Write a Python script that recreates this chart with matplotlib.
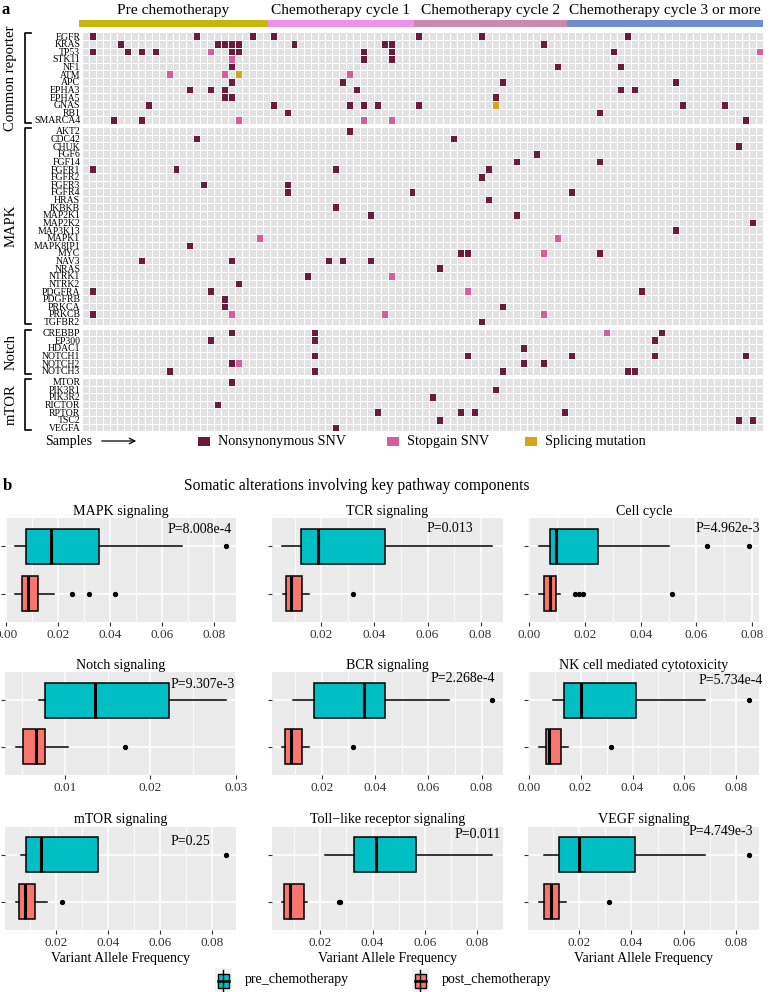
import numpy as np
import matplotlib
matplotlib.use("Agg")
import matplotlib.pyplot as plt
from matplotlib.colors import ListedColormap
from matplotlib.patches import Rectangle
from matplotlib.ticker import MultipleLocator, FormatStrFormatter

plt.rcParams['font.family'] = ['Liberation Serif', 'DejaVu Serif']

# ---------------- panel a: mutation map ----------------
n_samples = 98
phases = ["Pre chemotherapy", "Chemotherapy cycle 1", "Chemotherapy cycle 2",
          "Chemotherapy cycle 3 or more"]
phase_sizes = [27, 21, 22, 28]
phase_colors = ["#c9b60c", "#ee90ee", "#c98aae", "#6d8fcd"]

pathways = ["Common reporter", "MAPK", "Notch", "mTOR"]
common_genes = ["EGFR", "KRAS", "TP53", "STK11", "NF1", "ATM", "APC", "EPHA3",
                "EPHA5", "GNAS", "RB1", "SMARCA4"]
mapk_genes = ["AKT2", "CDC42", "CHUK", "FGF6", "FGF14", "FGFR1", "FGFR2", "FGFR3",
              "FGFR4", "HRAS", "IKBKB", "MAP2K1", "MAP2K2", "MAP3K13", "MAPK1",
              "MAPK8IP1", "MYC", "NAV3", "NRAS", "NTRK1", "NTRK2", "PDGFRA",
              "PDGFRB", "PRKCA", "PRKCB", "TGFBR2"]
notch_genes = ["CREBBP", "EP300", "HDAC1", "NOTCH1", "NOTCH2", "NOTCH3"]
mtor_genes = ["MTOR", "PIK3R1", "PIK3R2", "RICTOR", "RPTOR", "TSC2", "VEGFA"]

# sample (column) indices carrying each mutation type
nonsyn = {
    "EGFR": [1, 16, 24, 27, 48, 57, 78],
    "KRAS": [5, 19, 20, 21, 22, 30, 43, 44, 66],
    "TP53": [1, 6, 8, 10, 21, 22, 40, 44, 76],
    "STK11": [40, 44],
    "NF1": [21, 68, 77],
    "APC": [21, 37, 60, 85],
    "EPHA3": [15, 18, 20, 39, 77, 79],
    "EPHA5": [20, 21, 59],
    "GNAS": [9, 27, 38, 40, 42, 48, 86, 92],
    "RB1": [29, 74],
    "SMARCA4": [4, 8, 95],
    "AKT2": [38],
    "CDC42": [16, 53],
    "CHUK": [94],
    "FGF6": [65],
    "FGF14": [62, 74],
    "FGFR1": [1, 13, 36, 58],
    "FGFR2": [57],
    "FGFR3": [17, 29],
    "FGFR4": [29, 47, 70],
    "HRAS": [58],
    "IKBKB": [36],
    "MAP2K1": [41, 62],
    "MAP2K2": [96],
    "MAP3K13": [85],
    "MAPK8IP1": [15],
    "MYC": [54, 55, 74],
    "NAV3": [8, 21, 35, 37, 41],
    "NRAS": [51],
    "NTRK1": [32],
    "NTRK2": [22],
    "PDGFRA": [1, 18, 80],
    "PDGFRB": [20],
    "PRKCA": [20, 60],
    "PRKCB": [1],
    "TGFBR2": [57],
    "CREBBP": [21, 33, 83],
    "EP300": [18, 33, 82],
    "HDAC1": [63],
    "NOTCH1": [33, 55, 70, 82, 95],
    "NOTCH2": [21, 63, 66],
    "NOTCH3": [12, 33, 60, 78, 79],
    "MTOR": [21],
    "PIK3R1": [59],
    "PIK3R2": [50],
    "RICTOR": [19],
    "RPTOR": [42, 54, 56, 69],
    "TSC2": [51, 94, 96],
    "VEGFA": [36],
}
stopgain = {
    "TP53": [18, 97],
    "STK11": [21],
    "ATM": [12, 20, 38],
    "SMARCA4": [22, 40, 44],
    "MAPK1": [25, 68],
    "MYC": [66],
    "NTRK1": [44],
    "PDGFRA": [55],
    "PRKCB": [21, 43, 66],
    "CREBBP": [75],
    "NOTCH2": [22],
}
splicing = {
    "ATM": [22],
    "GNAS": [59],
}
mut_labels = ["Nonsynonymous SNV", "Stopgain SNV", "Splicing mutation"]
cell_colors = ["#e2e2e2", "#6b1a3c", "#d45c9f", "#d4a51c"]

# ---------------- panel b: VAF boxplots ----------------
box_titles = ["MAPK signaling", "TCR signaling", "Cell cycle",
              "Notch signaling", "BCR signaling", "NK cell mediated cytotoxicity",
              "mTOR signaling", "Toll\u2212like receptor signaling", "VEGF signaling"]
p_values = ["P=8.008e-4", "P=0.013", "P=4.962e-3",
            "P=9.307e-3", "P=2.268e-4", "P=5.734e-4",
            "P=0.25", "P=0.011", "P=4.749e-3"]
# (lower whisker, q1, median, q3, upper whisker)
pre_stats = [
    (0.0036, 0.0077, 0.0172, 0.0356, 0.0677),
    (0.0052, 0.0122, 0.0187, 0.0440, 0.0844),
    (0.0034, 0.0075, 0.0094, 0.0248, 0.0502),
    (0.0070, 0.0076, 0.0135, 0.0222, 0.0288),
    (0.0093, 0.0171, 0.0358, 0.0436, 0.0676),
    (0.0092, 0.0135, 0.0200, 0.0414, 0.0678),
    (0.0068, 0.0086, 0.0142, 0.0362, 0.0362),
    (0.0217, 0.0328, 0.0415, 0.0566, 0.0858),
    (0.0065, 0.0122, 0.0200, 0.0415, 0.0682),
]
pre_outliers = [[0.0843], [], [0.0639, 0.0788], [], [0.0840], [0.0848],
                [0.0852], [], [0.0849]]
post_stats = [
    (0.0036, 0.0062, 0.0085, 0.0123, 0.0185),
    (0.0055, 0.0065, 0.0084, 0.0128, 0.0153),
    (0.0034, 0.0054, 0.0073, 0.0094, 0.0110),
    (0.0042, 0.0051, 0.0066, 0.0076, 0.0104),
    (0.0051, 0.0060, 0.0085, 0.0127, 0.0152),
    (0.0039, 0.0066, 0.0079, 0.0124, 0.0150),
    (0.0045, 0.0058, 0.0081, 0.0120, 0.0165),
    (0.0054, 0.0060, 0.0082, 0.0137, 0.0148),
    (0.0046, 0.0065, 0.0091, 0.0125, 0.0150),
]
post_outliers = [[0.0253, 0.0317, 0.0418], [0.0320], [0.0164, 0.0178, 0.0193, 0.0514],
                 [0.0170], [0.0316], [0.0316], [0.0223], [0.0272, 0.0276], [0.0315]]
groups = ["pre_chemotherapy", "post_chemotherapy"]
group_colors = ["#00BFC4", "#F8766D"]

# ---------------- figure ----------------
W, H = 770, 992
fig = plt.figure(figsize=(W / 100, H / 100), dpi=100)


def px_axes(x0, y0, x1, y1, **kw):
    return fig.add_axes([x0 / W, 1 - y1 / H, (x1 - x0) / W, (y1 - y0) / H], **kw)


ann = px_axes(0, 0, W, H)
ann.set_xlim(0, W)
ann.set_ylim(H, 0)
ann.axis('off')

ann.text(1, 10, "a", fontsize=12, fontweight='bold', va='center')
ann.text(3, 486, "b", fontsize=12, fontweight='bold', va='center')

# phase bar
hm_left, hm_right = 82.3, 762.5
bar_ax = px_axes(hm_left - 3, 20, hm_right, 27)
starts = np.concatenate([[0], np.cumsum(phase_sizes)[:-1]])
bar_ax.barh(0, phase_sizes, left=starts, height=1, color=phase_colors)
for s, n, lab in zip(starts, phase_sizes, phases):
    bar_ax.text(s + n / 2, 2.3, lab, ha='center', va='center', fontsize=11.1,
                transform=bar_ax.get_xaxis_transform(), clip_on=False)
bar_ax.set_xlim(0, n_samples)
bar_ax.set_ylim(-0.5, 0.5)
bar_ax.axis('off')

# mutation facets
cell_cmap = ListedColormap(cell_colors)
facet_genes = [common_genes, mapk_genes, notch_genes, mtor_genes]
hm_top, hm_bottom, gap = 32.3, 431.3, 3.4
row_h = (hm_bottom - hm_top - gap * 3) / sum(len(g) for g in facet_genes)
y = hm_top
for name, genes in zip(pathways, facet_genes):
    h = row_h * len(genes)
    ax = px_axes(hm_left, y, hm_right, y + h)
    mat = np.zeros((len(genes), n_samples))
    for i, g in enumerate(genes):
        for code, table in enumerate([nonsyn, stopgain, splicing], start=1):
            for c in table.get(g, []):
                mat[i, c] = code
    ax.pcolormesh(mat, cmap=cell_cmap, vmin=-0.5, vmax=3.5,
                  edgecolors='white', linewidth=0.6)
    ax.set_xlim(0, n_samples)
    ax.set_ylim(len(genes), 0)
    ax.set_xticks([])
    ax.set_yticks(np.arange(len(genes)) + 0.5)
    ax.set_yticklabels(genes, fontsize=7)
    ax.tick_params(axis='y', length=0, pad=1.5)
    for sp in ax.spines.values():
        sp.set_visible(False)
    ann.plot([31, 24.5, 24.5, 31], [y + 1, y + 1, y + h - 1, y + h - 1],
             color='black', lw=1.2)
    ann.text(11, y + h / 2, name, rotation=90, ha='center', va='center', fontsize=10.6)
    y += h + gap

# heatmap legend
ann.text(45, 441, "Samples", fontsize=10, va='center')
ann.annotate('', xy=(139, 441), xytext=(99, 441),
             arrowprops=dict(arrowstyle='->', lw=0.9, color='black'))
for x0, col, lab in zip([198, 387, 525], cell_colors[1:], mut_labels):
    ann.add_patch(Rectangle((x0, 436.5), 12, 9, facecolor=col, edgecolor='none'))
    ann.text(x0 + 20, 441, lab, fontsize=10.2, va='center')

# ---------------- boxplots ----------------
col_x = [(5, 236), (271.7, 502.7), (528.3, 759.3)]
row_y = [(518.3, 621.7), (672, 775), (826.7, 930)]
p_pos = [(0.983, 0.887), (0.871, 0.903), (1.003, 0.903),
         (0.996, 0.874), (0.967, 0.935), (1.017, 0.915),
         (0.887, 0.861), (0.991, 0.929), (0.974, 0.951)]

for k in range(9):
    r, c = divmod(k, 3)
    ax = px_axes(col_x[c][0], row_y[r][0], col_x[c][1], row_y[r][1])
    ax.set_facecolor('#EBEBEB')
    stats = []
    for st, fl in [(post_stats[k], post_outliers[k]), (pre_stats[k], pre_outliers[k])]:
        stats.append(dict(whislo=st[0], q1=st[1], med=st[2], q3=st[3], whishi=st[4],
                          fliers=fl))
    res = ax.bxp(stats, positions=[1, 2], widths=0.75, orientation='horizontal',
                 patch_artist=True, showcaps=False,
                 boxprops=dict(edgecolor='black', linewidth=1.1),
                 medianprops=dict(color='black', linewidth=2.2),
                 whiskerprops=dict(color='black', linewidth=1.1),
                 flierprops=dict(marker='o', markersize=2.8, markerfacecolor='black',
                                 markeredgecolor='black'))
    for box, col in zip(res['boxes'], group_colors[::-1]):
        box.set_facecolor(col)
    vals = [v for v in pre_stats[k] + post_stats[k]] + pre_outliers[k] + post_outliers[k]
    lo, hi = min(vals), max(vals)
    pad = 0.05 * (hi - lo)
    ax.set_xlim(lo - pad, hi + pad)
    ax.set_ylim(0.4, 2.6)
    step = 0.01 if k == 3 else 0.02
    ax.xaxis.set_major_locator(MultipleLocator(step))
    ax.xaxis.set_minor_locator(MultipleLocator(step / 2))
    ax.xaxis.set_major_formatter(FormatStrFormatter('%.2f'))
    ax.set_yticks([1, 2])
    ax.set_yticklabels([])
    ax.grid(which='major', color='white', linewidth=1.1)
    ax.grid(which='minor', axis='x', color='white', linewidth=0.55)
    ax.set_axisbelow(True)
    ax.tick_params(which='major', length=3, width=0.8, color='#333333',
                   labelsize=9.5, labelcolor='#333333', pad=2)
    ax.tick_params(which='minor', length=0)
    for sp in ax.spines.values():
        sp.set_visible(False)
    ax.set_title(box_titles[k], fontsize=10.1, pad=2.5)
    ax.text(p_pos[k][0], p_pos[k][1], p_values[k], transform=ax.transAxes,
            ha='right', va='center', fontsize=10, clip_on=False)
    if r == 2:
        ax.set_xlabel("Variant Allele Frequency", fontsize=10, labelpad=2)

ann.text(357, 486, "Somatic alterations involving key pathway components",
         ha='center', va='center', fontsize=11.2)

# boxplot legend
for x0, col, lab in zip([217.5, 414.5], group_colors, groups):
    ann.add_patch(Rectangle((x0 - 3, 968), 17.5, 25, facecolor='#F2F2F2', edgecolor='none'))
    ann.plot([x0 + 5.75, x0 + 5.75], [969.5, 991.5], color='black', lw=1.0)
    ann.add_patch(Rectangle((x0, 973.5), 11.5, 14, facecolor=col, edgecolor='black',
                            lw=1.0))
    ann.plot([x0, x0 + 11.5], [980.5, 980.5], color='black', lw=1.8)
    ann.text(x0 + 27, 980, lab, fontsize=10.1, va='center')

fig.savefig("out.png", dpi=100)
